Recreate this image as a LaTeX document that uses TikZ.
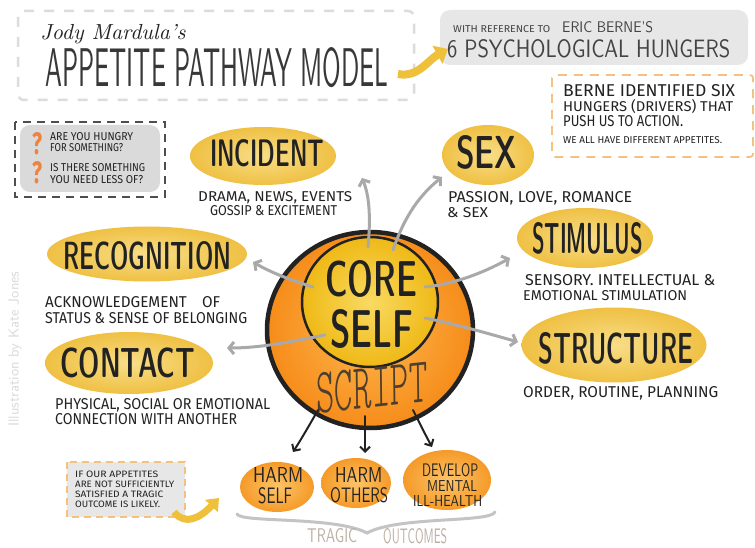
\documentclass[tikz,border=0pt]{standalone}
\usepackage{fontspec}
\setmainfont{Fira Sans}
\usepackage{graphicx}
\usetikzlibrary{shapes.geometric,arrows.meta,calc}
\newcommand{\rs}[3]{\resizebox{#1pt}{#2pt}{#3}}
\newcommand{\bigf}{\fontseries{sbc}\sffamily}
\newcommand{\thinf}{\fontseries{l}\ttfamily\slshape}
\definecolor{hyel}{HTML}{EFC043}
\definecolor{hyelL}{HTML}{F8DE88}
\definecolor{orgA}{HTML}{F68C1A}
\definecolor{orgL}{HTML}{FDB84E}
\definecolor{coreY}{HTML}{EFB916}
\definecolor{coreL}{HTML}{F9DA62}
\definecolor{outc}{HTML}{F59A28}
\definecolor{outcL}{HTML}{FCC46A}
\definecolor{garrow}{HTML}{A9A9A9}
\definecolor{boxg}{HTML}{E7E7E7}
\definecolor{qbox}{HTML}{DADADA}
\definecolor{dashO}{HTML}{F4C27E}
\definecolor{qmark}{HTML}{EE8340}
\definecolor{ink}{HTML}{222222}
\definecolor{titled}{HTML}{DCDCDC}
\definecolor{arrY}{HTML}{EFC03A}
\definecolor{bracec}{HTML}{C4C4C4}
\definecolor{tragic}{HTML}{BCB0A4}
\definecolor{credit}{HTML}{DADADA}
\definecolor{scriptc}{HTML}{4E3E2E}
\tikzset{
  hunger/.style={ellipse, inner sep=0pt, inner color=hyelL, outer color=hyel},
  outcome/.style={ellipse, inner sep=0pt, inner color=outcL, outer color=outc},
  txt/.style={inner sep=0pt, anchor=base west, text=ink},
  garr/.style={draw=garrow, line width=3pt, line cap=round, -{Straight Barb[length=5pt,width=12pt]}},
  barr/.style={draw=ink, line width=2pt, line cap=round, -{Straight Barb[length=5pt,width=10pt]}},
  yarr/.style={draw=arrY, line width=8pt, -{Triangle[length=12pt,width=20pt]}},
}
\begin{document}
\begin{tikzpicture}[x=1pt,y=-1pt]
\useasboundingbox[fill=white] (0,0) rectangle (755,548);

% ---------- title ----------
\draw[titled, line width=2.5pt, dash pattern=on 10pt off 10pt, rounded corners=6pt] (18,11) rectangle (414,100);
\node[inner sep=0pt, text=ink] (jody) at (113,34) {\resizebox{145pt}{!}{\fontfamily{lmr}\selectfont\itshape Jody Mardula's}};
\node[txt, text=ink!90] (title) at (45,87) {\sffamily\rs{343}{39}{APPETITE PATHWAY MODEL}};

% ---------- reference box ----------
\fill[boxg, rounded corners=10pt] (440,10) rectangle (748,65);
\node[txt, text=ink!85] (wref) at (453,33) {\rs{97}{7}{WITH REFERENCE TO}};
\node[txt, text=ink!85] (eric) at (562,33) {\sffamily\rs{91}{11}{ERIC BERNE'S}};
\node[txt, text=ink!85] (six) at (447,58) {\sffamily\rs{283}{18}{6 PSYCHOLOGICAL HUNGERS}};
\coordinate (ytail) at (398,74);
\coordinate (yhead) at (448,49);
\draw[yarr] (ytail) .. controls (418,78) and (428,60) .. (yhead);

% ---------- Berne box ----------
\draw[dashO, line width=1.8pt, dash pattern=on 9pt off 7pt, rounded corners=3pt] (552,75) rectangle (753,157);
\node[txt] (b1) at (563,97) {\rs{172}{12}{BERNE IDENTIFIED SIX}};
\node[txt] (b2) at (563,112) {\rs{170}{12}{HUNGERS (DRIVERS) THAT}};
\node[txt] (b3) at (563,127) {\rs{120}{11}{PUSH US TO ACTION.}};
\node[txt] (b4) at (563,144) {\rs{159}{7}{WE ALL HAVE DIFFERENT APPETITES.}};

% ---------- question box ----------
\draw[ink!80, line width=1.5pt, dash pattern=on 8pt off 6pt] (15,122) rectangle (165,197);
\fill[qbox, rounded corners=10pt] (20,125) rectangle (160,192);
\node[txt, text=qmark] (q1) at (32,155) {\bfseries\rs{10}{22}{?}};
\node[txt, text=qmark] (q2) at (32,184) {\bfseries\rs{10}{22}{?}};
\node[txt] (qa) at (50,141) {\rs{83}{8}{ARE YOU HUNGRY}};
\node[txt] (qb) at (50,152) {\rs{73}{8}{FOR SOMETHING?}};
\node[txt] (qc) at (50,172) {\rs{95}{8}{IS THERE SOMETHING}};
\node[txt] (qd) at (50,184) {\rs{93}{8}{YOU NEED LESS OF?}};

% ---------- hunger ellipses ----------
\node[hunger, minimum width=146pt, minimum height=58pt] (incident) at (263,156) {};
\node[hunger, minimum width=92pt, minimum height=60pt] (sex) at (488,155) {};
\node[hunger, minimum width=136pt, minimum height=60pt] (stimulus) at (585,238) {};
\node[hunger, minimum width=200pt, minimum height=55pt] (recognition) at (147,254) {};
\node[hunger, minimum width=185pt, minimum height=75pt] (structure) at (614,345) {};
\node[hunger, minimum width=168pt, minimum height=62pt] (contact) at (129,363) {};

\node[txt] (lInc) at (210,167) {\bigf\rs{114}{27}{INCIDENT}};
\node[txt] (lSex) at (456,169) {\bigf\rs{61}{33}{SEX}};
\node[txt] (lSti) at (532,253) {\bigf\rs{111}{31}{STIMULUS}};
\node[txt] (lRec) at (63,269) {\bigf\rs{168}{28}{RECOGNITION}};
\node[txt] (lStr) at (538,363) {\bigf\rs{155}{31}{STRUCTURE}};
\node[txt] (lCon) at (60,377) {\bigf\rs{135}{30}{CONTACT}};

% descriptions
\node[txt] (dInc1) at (198,202) {\rs{154}{10}{DRAMA, NEWS, EVENTS}};
\node[txt] (dInc2) at (210,216) {\rs{127}{10}{GOSSIP \& EXCITEMENT}};
\node[txt] (dSex1) at (448,203) {\rs{184}{11}{PASSION, LOVE, ROMANCE}};
\node[txt] (dSex2) at (447,218) {\rs{41}{10}{\& SEX}};
\node[txt] (dSti1) at (525,285) {\rs{190}{11}{SENSORY. INTELLECTUAL \&}};
\node[txt] (dSti2) at (523,300) {\rs{164}{10}{EMOTIONAL STIMULATION}};
\node[txt] (dStr) at (523,397) {\rs{195}{11}{ORDER, ROUTINE, PLANNING}};
\node[txt] (dRec1) at (45,307) {\rs{175}{11}{ACKNOWLEDGEMENT\quad OF}};
\node[txt] (dRec2) at (45,323) {\rs{202}{11}{STATUS \& SENSE OF BELONGING}};
\node[txt] (dCon1) at (55,409) {\rs{215}{11}{PHYSICAL, SOCIAL OR EMOTIONAL}};
\node[txt] (dCon2) at (55,424) {\rs{182}{11}{CONNECTION WITH ANOTHER}};

% ---------- central circles ----------
\node[ellipse, inner sep=0pt, minimum width=206pt, minimum height=196pt, inner color=orgL, outer color=orgA, draw=ink, line width=4.5pt] (script) at (370,330) {};
\node[ellipse, inner sep=0pt, minimum width=136pt, minimum height=130pt, inner color=coreL, outer color=coreY, draw=ink, line width=2.5pt] (core) at (370,302) {};
\node[txt] (lCore) at (325,296) {\bigf\rs{92}{36}{CORE}};
\node[txt] (lSelf) at (330,347) {\bigf\rs{83}{38}{SELF}};
\node[inner sep=0pt, text=scriptc, rotate=6] (lScript) at (370,388) {\thinf\rs{112}{40}{SCRIPT}};

% ---------- grey arrows ----------
\coordinate (sInc) at (368,247); \coordinate (tInc) at (362,178);
\coordinate (sSex) at (393,250); \coordinate (tSex) at (442,177);
\coordinate (sRec) at (313,287); \coordinate (tRec) at (253,262);
\coordinate (sCon) at (325,335); \coordinate (tCon) at (227,348);
\coordinate (sSti) at (425,287); \coordinate (tSti) at (510,258);
\coordinate (sStr) at (425,318); \coordinate (tStr) at (518,342);
\draw[garr] (sInc) .. controls (371,215) and (369,195) .. (tInc);
\draw[garr] (sSex) .. controls (405,215) and (420,195) .. (tSex);
\draw[garr] (sRec) .. controls (290,280) and (270,272) .. (tRec);
\draw[garr] (sCon) .. controls (290,342) and (260,348) .. (tCon);
\draw[garr] (sSti) .. controls (455,284) and (485,272) .. (tSti);
\draw[garr] (sStr) .. controls (455,324) and (490,334) .. (tStr);

% ---------- outcomes ----------
\node[outcome, minimum width=74pt, minimum height=50pt] (harmself) at (277,487) {};
\node[outcome, minimum width=70pt, minimum height=50pt] (harmothers) at (356,483) {};
\node[outcome, minimum width=88pt, minimum height=60pt] (mental) at (447,480) {};
\node[txt] (hs1) at (253,482) {\sffamily\rs{50}{15}{HARM}};
\node[txt] (hs2) at (258,503) {\sffamily\rs{34}{16}{SELF}};
\node[txt] (ho1) at (335,482) {\sffamily\rs{47}{15}{HARM}};
\node[txt] (ho2) at (330,502) {\sffamily\rs{58}{15}{OTHERS}};
\node[txt] (m1) at (422,476) {\sffamily\rs{56}{13}{DEVELOP}};
\node[txt] (m2) at (427,491) {\sffamily\rs{50}{11}{MENTAL}};
\node[txt] (m3) at (413,506) {\sffamily\rs{69}{11}{ILL-HEALTH}};

\coordinate (b1s) at (318,410); \coordinate (b1e) at (293,452);
\coordinate (b2s) at (365,416); \coordinate (b2e) at (365,453);
\coordinate (b3s) at (413,410); \coordinate (b3e) at (432,447);
\draw[barr] (b1s) .. controls (310,424) and (302,438) .. (b1e);
\draw[barr] (b2s) -- (b2e);
\draw[barr] (b3s) .. controls (420,424) and (426,436) .. (b3e);

% brace
\coordinate (brL) at (237,514); \coordinate (brM) at (367,533); \coordinate (brR) at (495,512);
\draw[bracec, line width=3pt, line cap=round] (brL) .. controls (240,523) and (335,516) .. (brM) .. controls (398,516) and (490,523) .. (brR);
\node[txt, text=tragic] (tr1) at (307,542) {\sffamily\rs{50}{14}{TRAGIC}};
\node[txt, text=tragic] (tr2) at (383,543) {\sffamily\rs{64}{15}{OUTCOMES}};

% ---------- note box ----------
\fill[boxg] (67,462) rectangle (185,517);
\draw[dashO, line width=1.5pt, dash pattern=on 7pt off 5pt] (67,462) rectangle (185,517);
\node[txt] (n1) at (75,477) {\rs{83}{6.5}{IF OUR APPETITES}};
\node[txt] (n2) at (75,487) {\rs{99}{6.5}{ARE NOT SUFFICIENTLY}};
\node[txt] (n3) at (75,497) {\rs{88}{6.5}{SATISFIED A TRAGIC}};
\node[txt] (n4) at (75,507) {\rs{85}{6.5}{OUTCOME IS LIKELY.}};
\coordinate (ntail) at (174,512);
\coordinate (nhead) at (219,498);
\draw[draw=arrY, line width=7pt, -{Triangle[length=11pt,width=17pt]}] (ntail) .. controls (185,526) and (200,518) .. (nhead);

% ---------- credit ----------
\node[rotate=90, inner sep=0pt, text=credit] (credit) at (15,349) {\resizebox{155pt}{!}{\fontfamily{lmss}\selectfont Illustration by Kate Jones}};
\end{tikzpicture}
\end{document}
